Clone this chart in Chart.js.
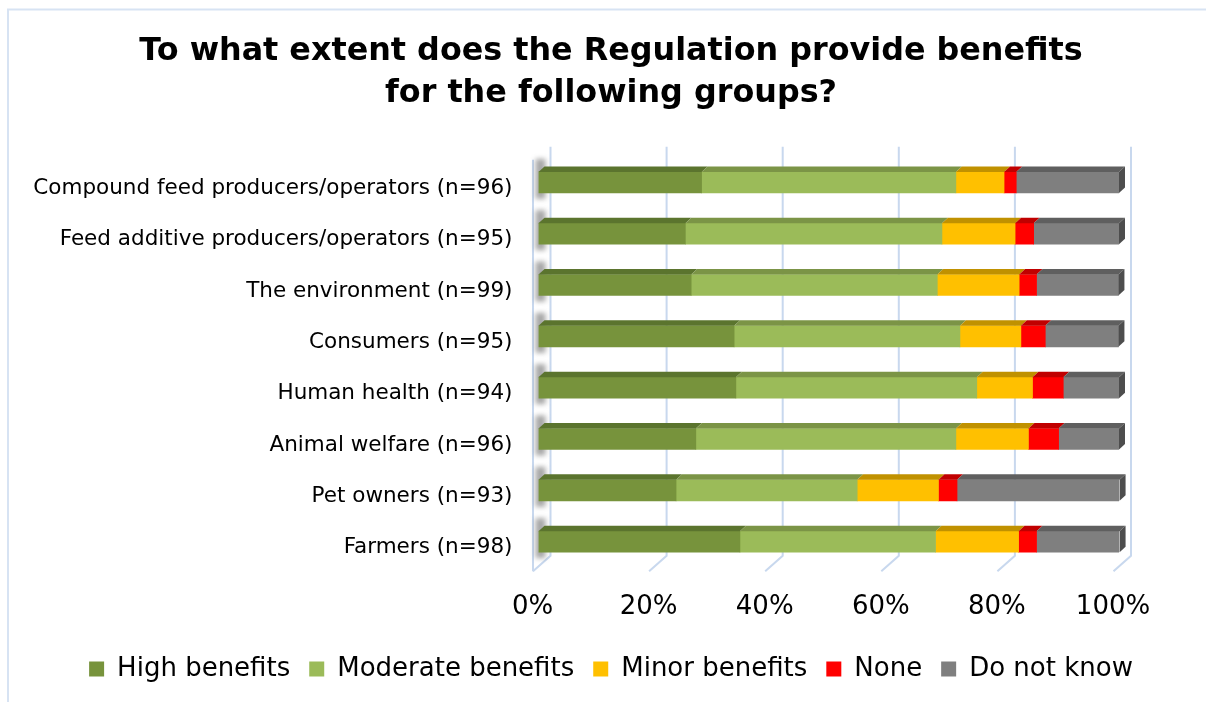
<!DOCTYPE html>
<html>
<head>
<meta charset="utf-8">
<title>Benefits of the Regulation</title>
<script src="https://cdn.jsdelivr.net/npm/chart.js@4.4.1/dist/chart.umd.min.js"></script>
<style>
  html, body { margin: 0; padding: 0; background: #fff; }
  canvas { display: block; }
</style>
</head>
<body>
<canvas id="benefitsChart" width="1206" height="702"></canvas>
<script>
let groups = [
    'Compound feed producers/operators (n=96)',
    'Feed additive producers/operators (n=95)',
    'The environment (n=99)',
    'Consumers (n=95)',
    'Human health (n=94)',
    'Animal welfare (n=96)',
    'Pet owners (n=93)',
    'Farmers (n=98)'
];

// share of answers per group, in percent
let highBenefits     = [28.1, 25.3, 26.3, 33.7, 34.0, 27.1, 23.7, 34.7];
let moderateBenefits = [43.8, 44.2, 42.4, 38.9, 41.5, 44.8, 31.2, 33.7];
let minorBenefits    = [ 8.3, 12.6, 14.1, 10.5,  9.6, 12.5, 14.0, 14.3];
let noBenefits       = [ 2.1,  3.2,  3.0,  4.2,  5.3,  5.2,  3.2,  3.1];
let doNotKnow        = [17.7, 14.7, 14.1, 12.6,  9.6, 10.4, 28.0, 14.3];

let answers = ['High benefits', 'Moderate benefits', 'Minor benefits', 'None', 'Do not know'];
let tickValues = [0, 20, 40, 60, 80, 100];

let frontColors = ['#77933c', '#9bbb59', '#ffc000', '#ff0000', '#7f7f7f'];
let topColors   = ['#5b742e', '#7b9446', '#c09100', '#c00000', '#5f5f5f'];
let endColor = '#4d4d4d';
let gridColor = '#c8d8ee';

Chart.defaults.font.family = "'DejaVu Sans', Verdana, sans-serif";
Chart.defaults.color = '#000';

// fake 3D look: back wall, floor, and the top/end faces of every bar
let depthBox = {
    id: 'depthBox',
    beforeDraw(chart) {
        let ctx = chart.ctx;
        ctx.save();
        ctx.fillStyle = '#fff';
        ctx.fillRect(0, 0, chart.width, chart.height);
        ctx.strokeStyle = '#d7e3f3';
        ctx.lineWidth = 2;
        ctx.beginPath();
        ctx.moveTo(8, chart.height);
        ctx.lineTo(8, 9.5);
        ctx.lineTo(chart.width, 9.5);
        ctx.stroke();
        ctx.restore();
    },
    beforeDatasetsDraw(chart) {
        let ctx = chart.ctx;
        let area = chart.chartArea;
        let xs = chart.scales.x;
        let backTop = area.top - 10;
        let backBottom = area.bottom - 11.5;
        let frontBottom = area.bottom + 4;
        ctx.save();
        ctx.strokeStyle = gridColor;
        ctx.lineWidth = 2;
        tickValues.forEach(v => {
            let px = xs.getPixelForValue(v);
            ctx.beginPath();
            ctx.moveTo(px + 12, backTop);
            ctx.lineTo(px + 12, backBottom);
            ctx.lineTo(px - 5.5, frontBottom);
            ctx.stroke();
        });
        let x0 = xs.getPixelForValue(0);
        ctx.beginPath();
        ctx.moveTo(x0 - 5.5, area.top + 3);
        ctx.lineTo(x0 - 5.5, frontBottom);
        ctx.stroke();

        // soft shadow of each bar on the left wall
        ctx.filter = 'blur(2.5px)';
        ctx.fillStyle = 'rgba(60,60,60,0.45)';
        chart.getDatasetMeta(0).data.forEach(bar => {
            let p = bar.getProps(['y', 'height'], true);
            let top = p.y - p.height / 2;
            ctx.fillRect(x0 - 3, top - 13, 10, p.height + 19);
        });
        ctx.restore();
    },
    afterDatasetsDraw(chart) {
        let ctx = chart.ctx;
        let dx = 6, dy = 5.5;
        let last = chart.data.datasets.length - 1;
        ctx.save();
        chart.data.datasets.forEach((ds, i) => {
            chart.getDatasetMeta(i).data.forEach(bar => {
                let p = bar.getProps(['x', 'base', 'y', 'height'], true);
                let left = Math.min(p.x, p.base);
                let right = Math.max(p.x, p.base);
                let top = p.y - p.height / 2;
                let bottom = p.y + p.height / 2;
                ctx.fillStyle = topColors[i];
                ctx.beginPath();
                ctx.moveTo(left, top);
                ctx.lineTo(right, top);
                ctx.lineTo(right + dx, top - dy);
                ctx.lineTo(left + dx, top - dy);
                ctx.closePath();
                ctx.fill();
                if (i === last) {
                    ctx.fillStyle = endColor;
                    ctx.beginPath();
                    ctx.moveTo(right, top);
                    ctx.lineTo(right + dx, top - dy);
                    ctx.lineTo(right + dx, bottom - dy);
                    ctx.lineTo(right, bottom);
                    ctx.closePath();
                    ctx.fill();
                }
            });
        });
        ctx.restore();
    }
};

let series = [highBenefits, moderateBenefits, minorBenefits, noBenefits, doNotKnow];

let myChart = document.getElementById('benefitsChart').getContext('2d');
let chart = new Chart(myChart, {
    type: 'bar',
    data: {
        labels: groups,
        datasets: series.map((values, i) => ({
            label: answers[i],
            data: values,
            backgroundColor: frontColors[i],
            borderWidth: 0,
            barThickness: 21
        }))
    },
    options: {
        indexAxis: 'y',
        responsive: false,
        animation: false,
        layout: {
            padding: { left: 16, right: 0, top: 0, bottom: 10 }
        },
        plugins: {
            title: {
                display: true,
                text: ['To what extent does the Regulation provide benefits', 'for the following groups?'],
                font: { size: 31.8, weight: 'bold', lineHeight: 1.31 },
                color: '#000',
                padding: { top: 31, bottom: 42.4 }
            },
            legend: {
                position: 'bottom',
                labels: {
                    boxWidth: 15,
                    boxHeight: 15,
                    padding: 19,
                    color: '#000',
                    font: { size: 26 }
                }
            },
            tooltip: { enabled: false }
        },
        scales: {
            x: {
                stacked: true,
                min: 0,
                max: 100,
                grid: { display: false, drawTicks: false },
                border: { display: false },
                afterBuildTicks(scale) {
                    scale.ticks = tickValues.map(v => ({ value: v }));
                },
                ticks: {
                    callback: v => v + '%',
                    font: { size: 26 },
                    color: '#000',
                    padding: 24,
                    labelOffset: -6
                },
                afterFit(scale) {
                    scale.height = 69.7;
                }
            },
            y: {
                stacked: true,
                grid: { display: false, drawTicks: false },
                border: { display: false },
                ticks: {
                    font: { size: 21.5 },
                    color: '#000',
                    padding: 26,
                    labelOffset: 6
                },
                afterFit(scale) {
                    scale.width = 522.5;
                }
            },
            y2: {
                position: 'right',
                grid: { display: false, drawTicks: false },
                border: { display: false },
                ticks: { display: false },
                afterFit(scale) {
                    scale.width = 87;
                }
            }
        }
    },
    plugins: [depthBox]
});
</script>
</body>
</html>
